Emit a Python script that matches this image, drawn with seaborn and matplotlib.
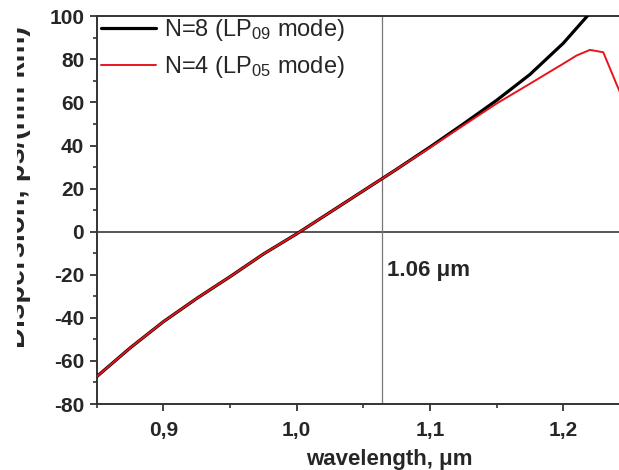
import matplotlib
matplotlib.use("Agg")
import matplotlib.pyplot as plt
import seaborn as sns
import pandas as pd
from matplotlib.patches import Rectangle
from matplotlib.ticker import MultipleLocator, FuncFormatter

# Dispersion of the two fibre designs, ps/(nm km) versus wavelength in um
wl_n8 = [0.85, 0.875, 0.90, 0.925, 0.95, 0.975, 1.00, 1.025, 1.05, 1.075,
         1.10, 1.125, 1.15, 1.175, 1.20, 1.21, 1.22, 1.23]
disp_n8 = [-67.3, -54.0, -41.8, -31.0, -20.9, -10.4, -1.0, 9.0, 19.0, 29.0,
           39.3, 50.0, 61.0, 73.0, 87.5, 94.5, 101.5, 109.0]

wl_n4 = [0.85, 0.875, 0.90, 0.925, 0.95, 0.975, 1.00, 1.025, 1.05, 1.075,
         1.10, 1.125, 1.15, 1.175, 1.19, 1.20, 1.21, 1.22, 1.23, 1.24, 1.25]
disp_n4 = [-67.3, -54.0, -41.8, -31.0, -20.9, -10.4, -1.0, 9.0, 19.0, 29.0,
           39.0, 49.3, 59.5, 68.7, 74.3, 78.0, 81.8, 84.4, 83.3, 68.4, 54.0]

label_n8 = "N=8 (LP$_{09}$ mode)"
label_n4 = "N=4 (LP$_{05}$ mode)"
pump_wl = 1.064
pump_text = "1.06 \u03bcm"
x_ticks = [0.9, 1.0, 1.1, 1.2]
y_ticks = [-80, -60, -40, -20, 0, 20, 40, 60, 80, 100]

sns.set_theme(style="ticks")
plt.rcParams["font.family"] = ["Liberation Sans", "DejaVu Sans"]
plt.rcParams["mathtext.fontset"] = "custom"
plt.rcParams["mathtext.rm"] = "Liberation Sans"
plt.rcParams["mathtext.it"] = "Liberation Sans"

df = pd.concat([
    pd.DataFrame({"wl": wl_n8, "D": disp_n8, "fibre": label_n8}),
    pd.DataFrame({"wl": wl_n4, "D": disp_n4, "fibre": label_n4}),
])

fig = plt.figure(figsize=(6.19, 4.70), dpi=100)
ax = fig.add_axes([96.7 / 619, 66 / 470, 1 - 96.7 / 619, (404 - 16.3) / 470])

ax.axhline(0, color="#555555", lw=1.4, zorder=1)
ax.axvline(pump_wl, color="#777777", lw=0.9, zorder=1)

sns.lineplot(data=df, x="wl", y="D", hue="fibre", size="fibre",
             palette={label_n8: "black", label_n4: "#e8141c"},
             sizes={label_n8: 2.3, label_n4: 1.4},
             estimator=None, sort=False, ax=ax, zorder=3)

ax.set_xlim(0.85, 1.2418)
ax.set_ylim(-80, 100)
ax.set_xticks(x_ticks)
ax.set_yticks(y_ticks)
ax.xaxis.set_minor_locator(MultipleLocator(0.05))
ax.yaxis.set_minor_locator(MultipleLocator(10))
ax.xaxis.set_major_formatter(FuncFormatter(lambda v, p: f"{v:.1f}".replace(".", ",")))
ax.yaxis.set_major_formatter(FuncFormatter(lambda v, p: f"{v:.0f}"))

for s in ["left", "bottom", "top"]:
    ax.spines[s].set_color("#333333")
    ax.spines[s].set_linewidth(1.4)
ax.spines["right"].set_visible(False)
ax.tick_params(axis="both", which="major", direction="out", length=5, width=1.3,
               color="#333333", labelsize=15)
ax.tick_params(axis="x", which="major", pad=7)
ax.tick_params(axis="y", which="major", pad=4)
ax.tick_params(axis="both", which="minor", direction="out", length=3, width=1.2,
               color="#333333")
for lab in ax.get_xticklabels() + ax.get_yticklabels():
    lab.set_fontweight("bold")

ax.set_xlabel("wavelength, \u03bcm", fontsize=16, fontweight="bold", va="bottom")
ax.xaxis.set_label_coords((389 - 96.7) / 522.3, -66 / 387.7)
ax.set_ylabel("")

ax.text(1.068, -17.8, pump_text, fontsize=16, fontweight="bold",
        ha="left", va="center")

leg = ax.legend(loc="upper left", bbox_to_anchor=(0.0, 1.01), frameon=False,
                fontsize=17, handlelength=2.3, handletextpad=0.35,
                labelspacing=0.45, borderaxespad=0.0, borderpad=0.2)

fig.text(31 / 619, 1 - 187 / 470, "Dispersion, ps/(nm km)", rotation=90,
         ha="right", va="center", fontsize=21, fontweight="bold", zorder=2)
# the left margin of the figure is blank paper over the label's upper half
fig.add_artist(Rectangle((0, 0), 17 / 619, 1, transform=fig.transFigure,
                         facecolor="white", edgecolor="none", zorder=10))

fig.savefig("out.png", dpi=100)
